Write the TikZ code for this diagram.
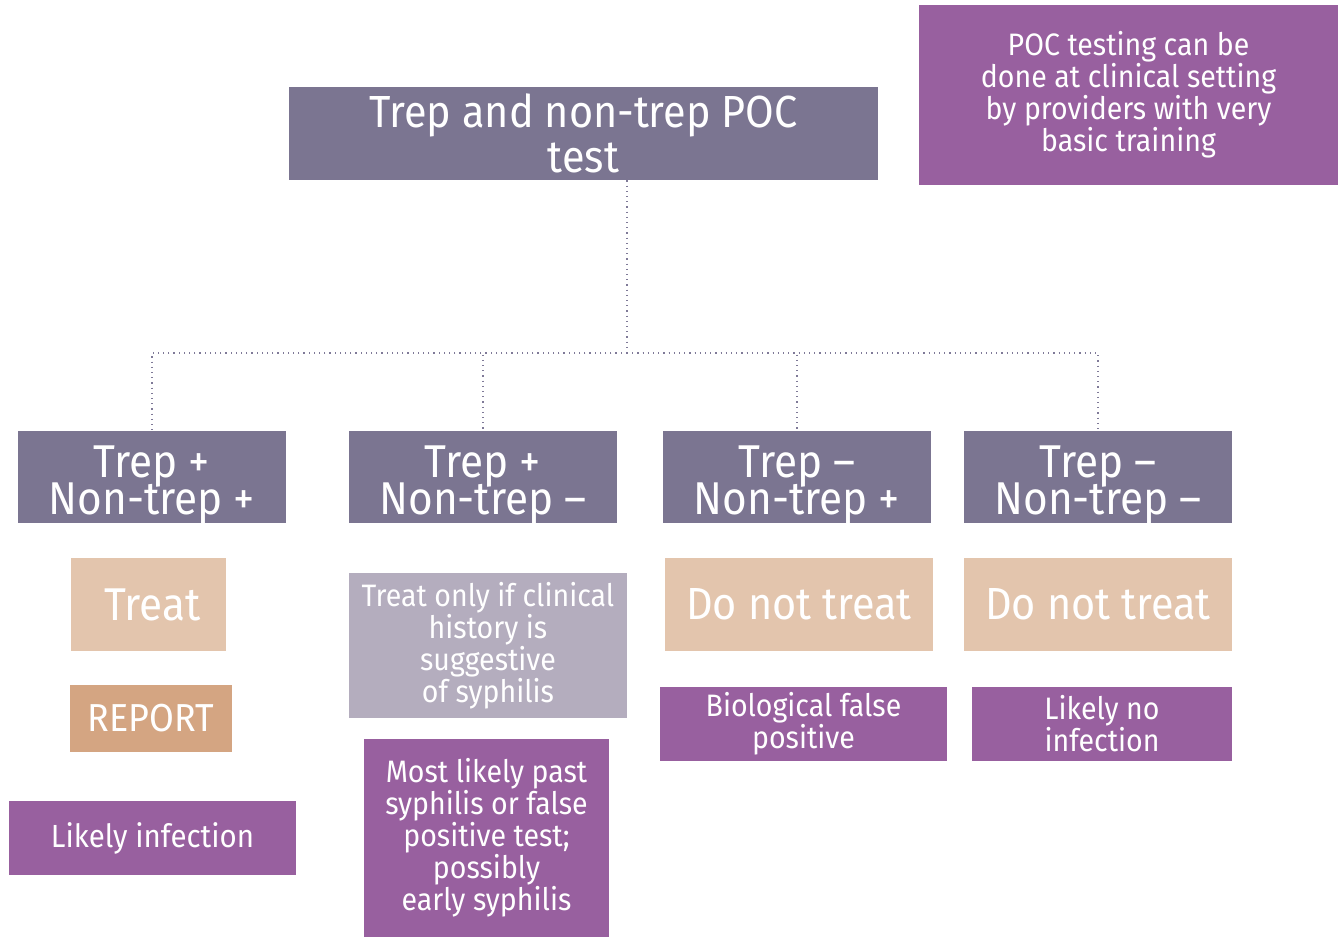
\documentclass[tikz,border=0pt]{standalone}
\usepackage{fontspec}
\setmainfont[FakeStretch=0.92]{Fira Sans}
\definecolor{slate}{HTML}{7B7591}
\definecolor{plum}{HTML}{98609F}
\definecolor{sand}{HTML}{E3C5AD}
\definecolor{tan}{HTML}{D4A582}
\definecolor{mist}{HTML}{B4ADBE}
\definecolor{linkgray}{HTML}{7F7A98}
% tight two-line text for the result boxes
\newcommand\resultfont{\fontsize{23}{18.5}\selectfont\lineskiplimit=-20pt\relax}
\begin{document}
\begin{tikzpicture}[x=0.5pt,y=-0.5pt,
  box/.style={rectangle,inner sep=0pt,text=white,align=center},
  % box from two corners given in picture units
  fromto/.style args={#1/#2/#3/#4}{minimum width={(#3-#1)*0.5pt},minimum height={(#4-#2)*0.5pt}},
  result/.style={box,fill=slate},
  resulttext/.style={text=white,align=center,inner sep=0pt,yshift=-4pt,font=\resultfont},
  small/.style={font=\fontsize{15.5}{16}\selectfont},
  link/.style={draw=linkgray,line width=0.6pt,dotted}]
\useasboundingbox (0,0) rectangle (1339,937);

% root and note
\node[box,fill=slate,fromto=289/87/878/180,font=\fontsize{22.5}{22.5}\selectfont] (root) at (583.5,133.5) {Trep and non-trep POC\\test};
\node[box,fill=plum,fromto=919/5/1338/185,small] (note) at (1128.5,95) {POC testing can be\\done at clinical setting\\by providers with very\\basic training};

% test result boxes
\node[result,fromto=18/431/286/523,label={[resulttext,name=pptxt]center:{Trep +\\Non-trep +}}] (pp) at (152,477) {};
\node[result,fromto=349/431/617/523,label={[resulttext,name=pmtxt]center:{Trep +\\Non-trep --}}] (pm) at (483,477) {};
\node[result,fromto=663/431/931/523,label={[resulttext,name=mptxt]center:{Trep --\\Non-trep +}}] (mp) at (797,477) {};
\node[result,fromto=964/431/1232/523,label={[resulttext,name=mmtxt]center:{Trep --\\Non-trep --}}] (mm) at (1098,477) {};

% actions
\node[box,fill=sand,fromto=71/558/226/651,font=\fontsize{23}{23}\selectfont] (treat) at (148.5,604.5) {\,Treat};
\node[box,fill=tan,fromto=70/685/232/752,font=\fontsize{19.5}{19.5}\selectfont] (report) at (151,718.5) {REPORT};
\node[box,fill=mist,fromto=349/573/627/718,small] (cond) at (488,645.5) {Treat only if clinical\\history is\\suggestive\\of syphilis};
\node[box,fill=sand,fromto=665/558/933/651,font=\fontsize{22.5}{22.5}\selectfont] (nt1) at (799,604.5) {Do not treat};
\node[box,fill=sand,fromto=964/558/1232/651,font=\fontsize{22.5}{22.5}\selectfont] (nt2) at (1098,604.5) {Do not treat};

% interpretations
\node[box,fill=plum,fromto=9/801/296/875,font=\fontsize{16}{16}\selectfont] (inf) at (152.5,838) {Likely infection};
\node[box,fill=plum,fromto=364/739/609/937,small] (past) at (486.5,838) {Most likely past\\syphilis or false\\positive test;\\possibly\\early syphilis};
\node[box,fill=plum,fromto=660/687/947/761,small] (bfp) at (803.5,724) {Biological false\\positive};
\node[box,fill=plum,fromto=972/687/1232/761,small] (noinf) at (1102,724) {Likely no\\infection};

% connectors
\coordinate (hub) at (627,353);
\draw[link] (root.south -| hub) -- (hub);
\draw[link] (hub) -| (pp.north);
\draw[link] (hub) -| (pm.north);
\draw[link] (hub) -| (mp.north);
\draw[link] (hub) -| (mm.north);
\end{tikzpicture}
\end{document}
